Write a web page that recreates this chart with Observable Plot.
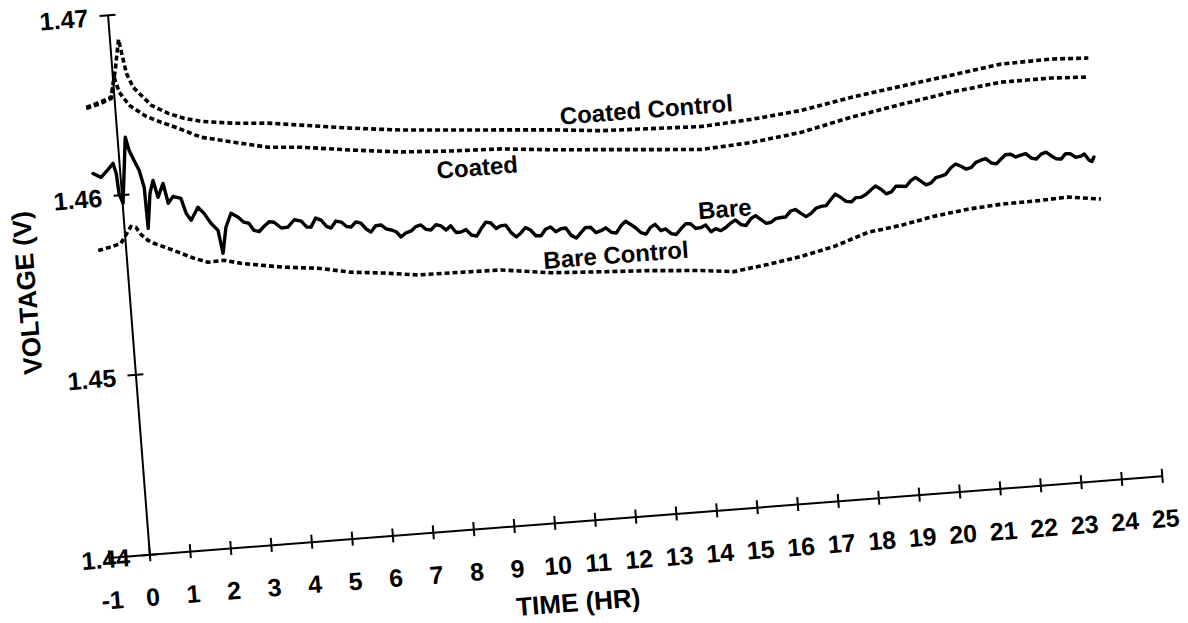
<!DOCTYPE html>
<html>
<head>
<meta charset="utf-8">
<script src="https://cdn.jsdelivr.net/npm/d3@7"></script>
<script src="https://cdn.jsdelivr.net/npm/@observablehq/plot@0.6"></script>
<style>
  html, body { margin: 0; padding: 0; background: #fff; width: 1188px; height: 623px; overflow: hidden; }
  #chart { position: absolute; left: 0; top: 0; }
  #chart svg { overflow: visible; }
</style>
</head>
<body>
<div id="chart"></div>
<script>
// ---- tick labels ----
const xTicks = [-1,0,1,2,3,4,5,6,7,8,9,10,11,12,13,14,15,16,17,18,19,20,21,22,23,24,25];
const yTicks = [1.44, 1.45, 1.46, 1.47];

// ---- series: [time (hr), voltage (V)] ----
const coatedControl = [
  [-0.71,1.46500],[-0.38,1.46522],[-0.08,1.46545],[0.07,1.46692],[0.21,1.46862],[0.27,1.46772],
  [0.34,1.46671],[0.48,1.46591],[0.89,1.46484],[1.29,1.46432],[1.67,1.46398],[2.08,1.46374],
  [2.89,1.46349],[3.73,1.46335],[4.53,1.46310],[5.75,1.46272],[6.98,1.46240],[8.20,1.46219],
  [9.43,1.46198],[10.66,1.46177],[11.88,1.46151],[13.11,1.46141],[14.35,1.46131],[15.59,1.46149],
  [16.83,1.46177],[18.08,1.46228],[19.33,1.46268],[20.58,1.46308],[21.83,1.46348],[23.07,1.46354],
  [23.98,1.46344]
];
const coated = [
  [-0.71,1.46494],[-0.34,1.46516],[-0.08,1.46539],[0.03,1.46654],[0.13,1.46569],[0.35,1.46493],
  [0.74,1.46425],[1.10,1.46386],[1.51,1.46345],[2.05,1.46286],[2.85,1.46244],[3.68,1.46202],
  [4.49,1.46188],[5.71,1.46151],[6.93,1.46119],[8.16,1.46103],[9.39,1.46093],[10.62,1.46067],
  [11.85,1.46046],[13.07,1.46025],[14.30,1.46004],[15.54,1.46021],[16.79,1.46056],[18.04,1.46118],
  [19.30,1.46168],[20.55,1.46214],[21.79,1.46248],[23.03,1.46249],[23.94,1.46239]
];
const bare = [
  [-0.67,1.46132],[-0.48,1.46107],[-0.29,1.46148],[-0.16,1.46179],[-0.10,1.46122],[-0.07,1.46011],
  [0.01,1.45954],[0.19,1.46318],[0.26,1.46244],[0.36,1.46187],[0.47,1.46129],[0.56,1.46033],
  [0.58,1.45805],[0.69,1.45998],[0.79,1.46068],[0.88,1.45972],[1.03,1.46047],[1.12,1.45935],
  [1.25,1.45971],[1.44,1.45957],[1.54,1.45872],[1.65,1.45831],[1.84,1.45900],[1.98,1.45864],
  [2.13,1.45806],[2.29,1.45764],[2.37,1.45635],[2.49,1.45778],[2.64,1.45853],[2.81,1.45828],
  [2.94,1.45798],[3.06,1.45790],[3.17,1.45749],[3.30,1.45740],[3.43,1.45767],[3.56,1.45790],
  [3.68,1.45785],[3.85,1.45750],[4.01,1.45752],[4.18,1.45790],[4.35,1.45779],[4.47,1.45745],
  [4.58,1.45742],[4.71,1.45790],[4.84,1.45776],[4.96,1.45740],[5.07,1.45728],[5.20,1.45765],
  [5.33,1.45757],[5.45,1.45730],[5.56,1.45725],[5.69,1.45752],[5.81,1.45743],[5.93,1.45708],
  [6.04,1.45689],[6.17,1.45722],[6.30,1.45724],[6.42,1.45700],[6.54,1.45692],[6.66,1.45680],
  [6.77,1.45649],[6.90,1.45670],[7.03,1.45678],[7.15,1.45700],[7.28,1.45707],[7.40,1.45680],
  [7.52,1.45675],[7.65,1.45702],[7.77,1.45693],[7.89,1.45668],[8.01,1.45690],[8.13,1.45650],
  [8.25,1.45651],[8.38,1.45662],[8.50,1.45630],[8.63,1.45622],[8.75,1.45660],[8.88,1.45695],
  [9.00,1.45688],[9.12,1.45655],[9.24,1.45668],[9.36,1.45670],[9.48,1.45626],[9.60,1.45600],
  [9.72,1.45620],[9.84,1.45648],[9.96,1.45632],[10.08,1.45598],[10.21,1.45596],[10.33,1.45630],
  [10.46,1.45640],[10.58,1.45612],[10.71,1.45626],[10.83,1.45628],[10.95,1.45585],[11.07,1.45568],
  [11.19,1.45595],[11.31,1.45622],[11.44,1.45622],[11.56,1.45590],[11.69,1.45598],[11.81,1.45612],
  [11.94,1.45585],[12.06,1.45578],[12.19,1.45617],[12.31,1.45640],[12.43,1.45620],[12.55,1.45598],
  [12.67,1.45570],[12.79,1.45560],[12.91,1.45595],[13.03,1.45610],[13.16,1.45573],[13.28,1.45580],
  [13.41,1.45552],[13.53,1.45545],[13.66,1.45575],[13.78,1.45600],[13.90,1.45598],[14.02,1.45570],
  [14.15,1.45573],[14.27,1.45585],[14.39,1.45545],[14.51,1.45560],[14.63,1.45547],[14.76,1.45562],
  [14.89,1.45585],[15.01,1.45600],[15.14,1.45572],[15.26,1.45565],[15.39,1.45600],[15.51,1.45615],
  [15.64,1.45591],[15.76,1.45568],[15.88,1.45572],[16.00,1.45590],[16.13,1.45594],[16.25,1.45595],
  [16.38,1.45625],[16.50,1.45632],[16.63,1.45608],[16.75,1.45588],[16.88,1.45604],[17.01,1.45630],
  [17.14,1.45638],[17.26,1.45640],[17.39,1.45672],[17.51,1.45700],[17.64,1.45679],[17.76,1.45655],
  [17.89,1.45650],[18.01,1.45672],[18.13,1.45671],[18.26,1.45685],[18.39,1.45708],[18.51,1.45728],
  [18.64,1.45707],[18.76,1.45680],[18.89,1.45688],[19.01,1.45718],[19.14,1.45715],[19.26,1.45712],
  [19.39,1.45742],[19.51,1.45758],[19.64,1.45734],[19.76,1.45712],[19.89,1.45722],[20.01,1.45748],
  [20.14,1.45754],[20.26,1.45762],[20.39,1.45795],[20.52,1.45815],[20.65,1.45800],[20.77,1.45782],
  [20.90,1.45790],[21.02,1.45815],[21.15,1.45825],[21.27,1.45832],[21.40,1.45805],[21.52,1.45798],
  [21.64,1.45822],[21.76,1.45845],[21.89,1.45845],[22.01,1.45828],[22.14,1.45836],[22.26,1.45842],
  [22.39,1.45815],[22.51,1.45808],[22.64,1.45833],[22.76,1.45842],[22.88,1.45820],[23.00,1.45800],
  [23.12,1.45797],[23.24,1.45825],[23.36,1.45822],[23.48,1.45800],[23.61,1.45805],[23.70,1.45815],
  [23.80,1.45780],[23.87,1.45770],[23.93,1.45794]
];
const bareControl = [
  [-0.69,1.45704],[-0.42,1.45716],[-0.12,1.45733],[0.16,1.45823],[0.28,1.45816],[0.39,1.45775],
  [0.55,1.45739],[0.69,1.45720],[1.03,1.45686],[1.34,1.45653],[1.65,1.45620],[1.98,1.45592],
  [2.38,1.45596],[2.79,1.45572],[3.28,1.45553],[3.84,1.45532],[4.67,1.45512],[5.47,1.45476],
  [6.28,1.45457],[7.11,1.45432],[7.93,1.45429],[9.16,1.45424],[10.38,1.45387],[11.61,1.45371],
  [12.84,1.45356],[14.07,1.45335],[14.87,1.45315],[15.72,1.45340],[16.55,1.45370],[17.38,1.45411],
  [18.24,1.45475],[19.06,1.45499],[19.89,1.45535],[20.74,1.45560],[21.56,1.45573],[22.37,1.45576],
  [23.22,1.45584],[24.02,1.45559]
];

// ---- curve annotations ----
const labelNames = ["Coated Control", "Coated", "Bare", "Bare Control"];
const labelT = [13.03, 8.77, 14.77, 12.01];
const labelV = [1.46244, 1.45998, 1.45662, 1.45454];

const toRows = (arr) => arr.map(([t, v]) => ({t, v}));
const labels = labelNames.map((name, i) => ({name, t: labelT[i], v: labelV[i]}));

const font = "'Liberation Sans', Arial, Helvetica, sans-serif";
const dotted = {x: "t", y: "v", stroke: "black", strokeWidth: 3.6, strokeDasharray: "5,3", strokeLinecap: "butt"};

const chart = Plot.plot({
  width: 1188,
  height: 623,
  marginLeft: 108.7,
  marginRight: 23.2,
  marginTop: 13.2,
  marginBottom: 68.7,
  x: {domain: [-1, 25], axis: null},
  y: {domain: [1.44, 1.47], axis: null},
  style: {fontFamily: font, background: "transparent", color: "black", overflow: "visible"},
  marks: [
    // axes
    Plot.ruleY([yTicks[0]], {stroke: "black", strokeWidth: 2}),
    Plot.ruleX([0], {stroke: "black", strokeWidth: 2}),
    Plot.ruleX(xTicks, {x: d => d, y1: yTicks[0], y2: yTicks[0], insetTop: -7, insetBottom: -7, stroke: "black", strokeWidth: 2}),
    Plot.ruleY(yTicks, {y: d => d, x1: 0, x2: 0, insetLeft: -8, insetRight: -8, stroke: "black", strokeWidth: 2}),
    Plot.text(xTicks, {x: d => d, y: yTicks[0], text: d => String(d), dy: 43, fontSize: 25, fontWeight: "bold", fill: "black"}),
    Plot.text(yTicks, {x: 0, y: d => d, text: d => d.toFixed(2), textAnchor: "end", dx: -20, dy: 2, fontSize: 25, fontWeight: "bold", fill: "black"}),
    Plot.text(["VOLTAGE (V)"], {frameAnchor: "left", textAnchor: "middle", lineAnchor: "middle", rotate: -90, dx: -61, dy: 0, fontSize: 26, fontWeight: "bold", fill: "black"}),
    Plot.text(["TIME (HR)"], {frameAnchor: "bottom", textAnchor: "middle", lineAnchor: "middle", dx: -64, dy: 81, fontSize: 26, fontWeight: "bold", fill: "black"}),
    // series
    Plot.line(toRows(coatedControl), dotted),
    Plot.line(toRows(coated), dotted),
    Plot.line(toRows(bareControl), dotted),
    Plot.line(toRows(bare), {x: "t", y: "v", stroke: "black", strokeWidth: 3.4, strokeLinejoin: "round"}),
    // annotations
    Plot.text(labels, {x: "t", y: "v", text: "name", fontSize: 24, fontWeight: "bold", fill: "black"})
  ]
});

// rotate the whole drawing about the axes' origin, as in the scanned figure
const ox = chart.scale("x").apply(0);
const oy = chart.scale("y").apply(yTicks[0]);
chart.style.transformOrigin = `${ox}px ${oy}px`;
chart.style.transform = "rotate(-4.43deg)";
document.getElementById("chart").appendChild(chart);
</script>
</body>
</html>
